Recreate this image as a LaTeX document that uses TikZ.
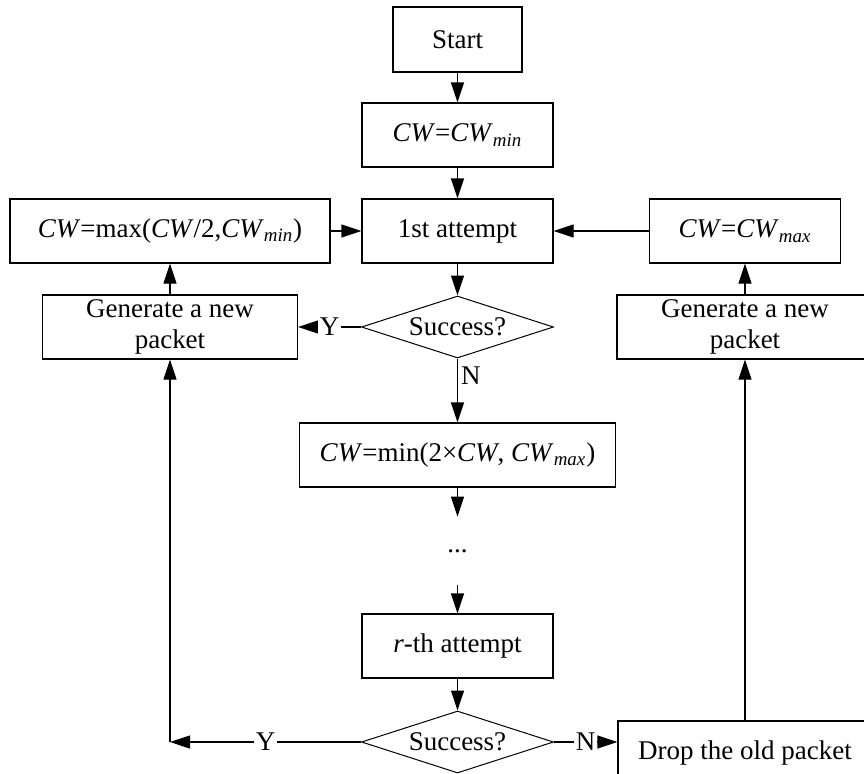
\documentclass[tikz,border=0pt]{standalone}
\usepackage{fontspec}
\setmainfont{Liberation Serif}
\usetikzlibrary{arrows.meta,shapes.geometric}

\begin{document}
\begin{tikzpicture}[x=0.5pt,y=-0.5pt,>={Triangle[length=10pt,width=6.5pt]},
  every node/.style={font=\fontsize{13.5}{15.5}\selectfont,align=center},
  procbox/.style={draw,line width=0.6pt,inner sep=1pt,minimum height=32pt},
  stdbox/.style={procbox,minimum width=95.5pt},
  decision/.style={draw,diamond,aspect=3.1,line width=0.5pt,inner sep=0pt,
    minimum width=96pt,minimum height=31pt},
  flow/.style={->,line width=0.6pt},
  lbl/.style={fill=white,inner sep=1pt}]
  \useasboundingbox (0,0) rectangle (864,773);
  \clip (0,0) rectangle (864,773);
  % main column
  \node[procbox,minimum width=64.5pt,minimum height=32.5pt] (start) at (457.5,39.5) {Start};
  \node[stdbox] (cwinit) at (457.5,135) {\textit{CW}=\textit{CW}\textsubscript{\textit{min}}};
  \node[stdbox] (first) at (457.5,231) {1st attempt};
  \node[decision] (check1) at (457.5,327) {Success?};
  \node[procbox,minimum width=158pt] (double) at (457.5,455)
    {\textit{CW}=min(2×\textit{CW}, \textit{CW}\textsubscript{\textit{max}})};
  \node[inner sep=0pt,minimum height=34pt] (dots) at (457.5,551) {...};
  \node[stdbox] (rth) at (457.5,646) {\textit{r}-th attempt};
  \node[decision] (check2) at (457.5,742) {Success?};
  % side columns
  \node[procbox,minimum width=160pt] (halve) at (170,231)
    {\textit{CW}=max(\textit{CW}/2,\textit{CW}\textsubscript{\textit{min}})};
  \node[procbox,minimum width=127.5pt] (newL) at (170,327) {Generate a new\\packet};
  \node[stdbox] (reset) at (745,231) {\textit{CW}=\textit{CW}\textsubscript{\textit{max}}};
  \node[procbox,minimum width=128pt] (newR) at (745,327) {Generate a new\\packet};
  \node[procbox,minimum width=127pt] (drop) at (745,753) {Drop the old packet};
  \coordinate (turn) at (170,742);
  % connectors
  \draw[flow] (start) -- (cwinit);
  \draw[flow] (cwinit) -- (first);
  \draw[flow] (first) -- (check1);
  \draw[flow] (check1) -- node[lbl]{Y} (newL);
  \draw[flow] (newL) -- (halve);
  \draw[flow] (halve) -- (first);
  \draw[flow] (newR) -- (reset);
  \draw[flow] (reset) -- (first);
  \draw[flow] (check1) -- node[right,pos=0.27,inner sep=1.5pt]{N} (double);
  \draw[flow] (double) -- (dots);
  \draw[flow] (dots) -- (rth);
  \draw[flow] (rth) -- (check2);
  \draw[flow] (check2) -- node[lbl]{Y} (turn);
  \draw[flow] (turn) -- (newL);
  \draw[flow] (check2) -- node[lbl]{N} (check2 -| drop.west);
  \draw[flow] (drop) -- (newR);
\end{tikzpicture}
\end{document}
